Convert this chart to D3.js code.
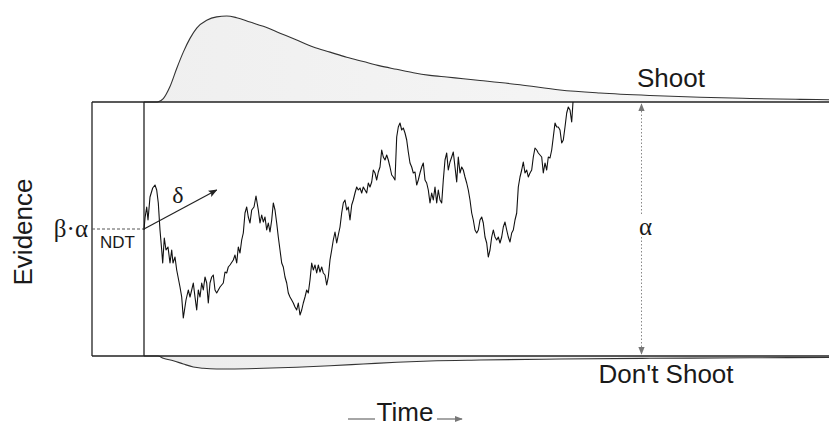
<!DOCTYPE html>
<html><head><meta charset="utf-8">
<script src="https://cdn.jsdelivr.net/npm/d3@7"></script>
<style>body{margin:0;background:#fff}svg{display:block}text{font-family:"Liberation Sans",Arial,sans-serif;fill:#1a1a1a}text.gr{font-family:"Liberation Serif","Times New Roman",serif}</style>
</head><body>
<svg id="c" width="829" height="426"></svg>
<script>
// ---- data ----
const alpha = 254;          // boundary separation (evidence units)
const beta = 0.5;           // relative starting point
const ndt = 52;             // non-decision time (time units)
const timeMax = 737;
// random walk: [decision time, evidence]
const walk = [[0,126],[1,138],[2.7,149],[4,136],[6,159],[8.7,168],[11,171],[12.7,166],[14.3,153],[16,126],[17.7,106],[18.7,93],[20.3,118],[22,106],[24,109],[26,93],[27.7,106],[29,93],[31,99],[32.7,86],[36,69],[37.7,59],[39.3,38],[42,56],[44.3,66],[46,59],[47.7,66],[49.3,73],[51,59],[52.7,46],[54.3,66],[56,59],[57.7,73],[59.3,66],[61,79],[62.7,73],[64.3,53],[66,73],[67.7,79],[69.3,81],[71,66],[72.7,63],[76,69],[79.3,73],[81,84],[82.7,83],[84.3,89],[86,91],[89.3,96],[91,101],[92.7,93],[94.3,109],[96,103],[97.7,116],[99.3,123],[101,143],[102.7,149],[104.3,139],[106,133],[107.7,146],[110,149],[112,160],[114.3,146],[116,133],[117.7,141],[119.3,134],[121,139],[122.7,126],[124.3,133],[126,124],[127.7,136],[129.3,153],[131,146],[132.7,133],[134.3,119],[136,106],[137.7,93],[139.3,89],[141,79],[142.7,73],[144.3,63],[146,59],[147.7,56],[149.3,53],[151,49],[152.7,46],[154.3,53],[156,41],[157.7,46],[159.3,53],[161,59],[162.7,66],[164.3,63],[166,76],[167.7,93],[169.3,86],[171,91],[172.7,83],[174.3,91],[176,84],[177.7,89],[179.3,83],[181,81],[182.7,71],[184.3,79],[186,96],[187.7,106],[189.3,116],[191,124],[192.7,113],[194.3,121],[196,129],[197.7,143],[199.3,153],[201,156],[202.7,146],[204.3,149],[206,136],[207.7,151],[209.3,156],[211,163],[212.7,169],[214.3,166],[216,168],[217.7,163],[219.3,169],[221,166],[222.7,163],[224.3,173],[226,169],[227.7,174],[229.3,186],[231,183],[232.7,176],[234.3,184],[236,189],[237.7,206],[239.3,199],[241,196],[242.7,201],[244.3,196],[246,189],[247.7,181],[249.3,179],[251,176],[252.7,219],[254.3,229],[256,233],[257.7,226],[259.3,228],[261,223],[262.7,216],[264.3,204],[266,193],[267.7,189],[269.3,183],[271,184],[272.7,171],[274.3,176],[276,183],[277.7,189],[279.3,193],[281,176],[282.7,173],[284.3,166],[286,153],[287.7,163],[289.3,156],[291,169],[292.7,153],[294.3,166],[296,156],[297.7,153],[299.3,176],[301,196],[302.7,203],[304.3,186],[306,194],[307.7,199],[309.3,204],[311,189],[312.7,174],[314.3,199],[316,183],[317.7,189],[319.3,186],[321,179],[322.7,173],[324.3,166],[326,156],[327.7,143],[329.3,136],[331,126],[332.7,123],[334.3,126],[336,136],[337.7,139],[339.3,133],[341,119],[342.7,113],[344.3,99],[346,106],[347.7,119],[349.3,126],[351,119],[352.7,116],[354.3,119],[356,113],[357.7,119],[359.3,129],[361,134],[362.7,126],[364.3,119],[366,114],[367.7,123],[369.3,126],[371,136],[372.7,143],[374.3,169],[376,179],[377.7,186],[379.3,194],[381,183],[382.7,186],[384.3,179],[386,183],[387.7,186],[389.3,199],[391,208],[392.7,206],[394.3,203],[396,201],[397.7,199],[399.3,183],[401,193],[402.7,186],[404.3,199],[406,198],[407.7,206],[409.3,219],[411,233],[412.7,229],[414.3,229],[416,226],[417.7,213],[419.3,216],[421,229],[422.7,243],[424.3,249],[426,246],[427.7,234],[429,254]];
// first-passage densities (time from onset, relative density)
const densTime  = [52, 64, 66.3, 71.3, 78, 84.7, 91.3, 98, 104.7, 114.7, 124.7, 134.7, 144.7, 158, 171.3, 188, 204.7, 221.3, 238, 254.7, 271.3, 288, 304.7, 321.3, 338, 354.7, 371.3, 388, 428, 468, 508, 558, 608, 658, 708, 737];
const shootDens = [0, 0, 0.004, 0.04, 0.18, 0.39, 0.58, 0.74, 0.86, 0.95, 0.99, 1.00, 0.98, 0.93, 0.88, 0.80, 0.72, 0.64, 0.58, 0.52, 0.47, 0.42, 0.38, 0.34, 0.31, 0.29, 0.27, 0.25, 0.20, 0.14, 0.105, 0.076, 0.055, 0.041, 0.031, 0.027];
const dontTime  = [52, 66, 71.3, 81.3, 91.3, 101.3, 111.3, 124.7, 138, 171.3, 204.7, 238, 271.3, 304.7, 338, 388, 468, 558, 658, 737];
const dontDens  = [0, 0, 0.027, 0.055, 0.093, 0.128, 0.143, 0.151, 0.151, 0.143, 0.131, 0.113, 0.093, 0.073, 0.058, 0.047, 0.035, 0.027, 0.021, 0.017];
const labels = {upper:"Shoot", lower:"Don't Shoot", y:"Evidence", x:"Time", start:"β·α", ndt:"NDT", drift:"δ", bound:"α"};

// ---- scales ----
const svg = d3.select("#c");
const x = d3.scaleLinear().domain([0, timeMax]).range([92, 829]);
const y = d3.scaleLinear().domain([0, alpha]).range([356, 102]);
const h = d3.scaleLinear().domain([0, 1]).range([0, 86]);

const defs = svg.append("defs");
const g1 = defs.append("linearGradient").attr("id","gU").attr("x1",0).attr("x2",1).attr("y1",0).attr("y2",0);
g1.append("stop").attr("offset","0%").attr("stop-color","#efefef");
g1.append("stop").attr("offset","100%").attr("stop-color","#f8f8f8");
const g2 = defs.append("linearGradient").attr("id","gL").attr("x1",0).attr("x2",1).attr("y1",0).attr("y2",0);
g2.append("stop").attr("offset","0%").attr("stop-color","#ececec");
g2.append("stop").attr("offset","100%").attr("stop-color","#f6f6f6");
const mk = defs.append("marker").attr("id","ah").attr("viewBox","0 0 10 10").attr("refX",9).attr("refY",5)
  .attr("markerWidth",9).attr("markerHeight",9).attr("markerUnits","userSpaceOnUse").attr("orient","auto");
mk.append("path").attr("d","M0,1L10,5L0,9L2,5Z").attr("fill","#222");
const mk2 = defs.append("marker").attr("id","ag").attr("viewBox","0 0 10 10").attr("refX",9).attr("refY",5)
  .attr("markerWidth",8).attr("markerHeight",8).attr("markerUnits","userSpaceOnUse").attr("orient","auto-start-reverse");
mk2.append("path").attr("d","M0,1L10,5L0,9Z").attr("fill","#777");
const mk3 = defs.append("marker").attr("id","at").attr("viewBox","0 0 10 10").attr("refX",9).attr("refY",5)
  .attr("markerWidth",8).attr("markerHeight",8).attr("markerUnits","userSpaceOnUse").attr("orient","auto");
mk3.append("path").attr("d","M0,1L10,5L0,9Z").attr("fill","#777");

// densities
const upData = densTime.map((t,i)=>[t, shootDens[i]]);
const area = (sign) => d3.area().x(d=>x(d[0])).y0(sign<0?y(alpha):y(0)).y1(d=> sign<0 ? y(alpha)-h(d[1]) : y(0)+h(d[1])).curve(d3.curveMonotoneX);
const line = (sign) => d3.line().x(d=>x(d[0])).y(d=> sign<0 ? y(alpha)-h(d[1]) : y(0)+h(d[1])).curve(d3.curveMonotoneX);
svg.append("path").datum(upData).attr("d",area(-1)).attr("fill","url(#gU)");
svg.append("path").datum(upData).attr("d",line(-1)).attr("fill","none").attr("stroke","#333").attr("stroke-width",1.1);
const loData = dontTime.map((t,i)=>[t, dontDens[i]]);
svg.append("path").datum(loData).attr("d",area(1)).attr("fill","url(#gL)");
svg.append("path").datum(loData).attr("d",line(1)).attr("fill","none").attr("stroke","#333").attr("stroke-width",1.1);

// frame
const fr = svg.append("g").attr("stroke","#222").attr("stroke-width",1.3).attr("fill","none");
fr.append("line").attr("x1",x(0)).attr("x2",x(timeMax)).attr("y1",y(alpha)).attr("y2",y(alpha));
fr.append("line").attr("x1",x(0)).attr("x2",x(timeMax)).attr("y1",y(0)).attr("y2",y(0));
fr.append("line").attr("x1",x(0)).attr("x2",x(0)).attr("y1",y(alpha)).attr("y2",y(0));
fr.append("line").attr("x1",x(ndt)).attr("x2",x(ndt)).attr("y1",y(alpha)).attr("y2",y(0));

// start point dashed
svg.append("line").attr("x1",x(0)).attr("x2",x(ndt)).attr("y1",y(beta*alpha)).attr("y2",y(beta*alpha))
  .attr("stroke","#555").attr("stroke-width",1).attr("stroke-dasharray","3,2");

// random walk
svg.append("path").datum(walk).attr("d", d3.line().x(d=>x(ndt+d[0])).y(d=>y(d[1])))
  .attr("fill","none").attr("stroke","#111").attr("stroke-width",1.1).attr("stroke-linejoin","round");

// drift arrow
svg.append("line").attr("x1",x(ndt)).attr("y1",y(beta*alpha)).attr("x2",x(ndt+72.7)).attr("y2",y(166))
  .attr("stroke","#222").attr("stroke-width",1.2).attr("marker-end","url(#ah)");

// alpha arrow
const ax = x(549.5);
svg.append("line").attr("x1",ax).attr("x2",ax).attr("y1",y(alpha)+2).attr("y2",y(0)-2)
  .attr("stroke","#888").attr("stroke-width",1).attr("stroke-dasharray","1.5,2")
  .attr("marker-start","url(#ag)").attr("marker-end","url(#at)");
svg.append("rect").attr("x",ax-7).attr("y",y(beta*alpha)-13).attr("width",14).attr("height",20).attr("fill","#fff");

// texts
const T = (txt,xx,yy,size,anchor,cls) => svg.append("text").attr("class",cls||null).attr("x",xx).attr("y",yy).attr("font-size",size).attr("text-anchor",anchor||"middle").text(txt);
T(labels.upper, 671, 87, 26);
T(labels.lower, 666, 383, 26);
T(labels.ndt, 117.5, 248, 17);
T(labels.start, 88, 237, 25, "end", "gr");
T(labels.drift, 178, 203, 24, "middle", "gr");
T(labels.bound, ax+4, 235, 25, "middle", "gr");
svg.append("text").attr("transform","translate(32,232) rotate(-90)").attr("font-size",26).attr("text-anchor","middle").text(labels.y);
T(labels.x, 405, 421, 26);
svg.append("line").attr("x1",348).attr("x2",375).attr("y1",419).attr("y2",419).attr("stroke","#888").attr("stroke-width",1.5);
svg.append("line").attr("x1",437).attr("x2",462).attr("y1",419).attr("y2",419).attr("stroke","#888").attr("stroke-width",1.5).attr("marker-end","url(#at)");
</script>
</body></html>
